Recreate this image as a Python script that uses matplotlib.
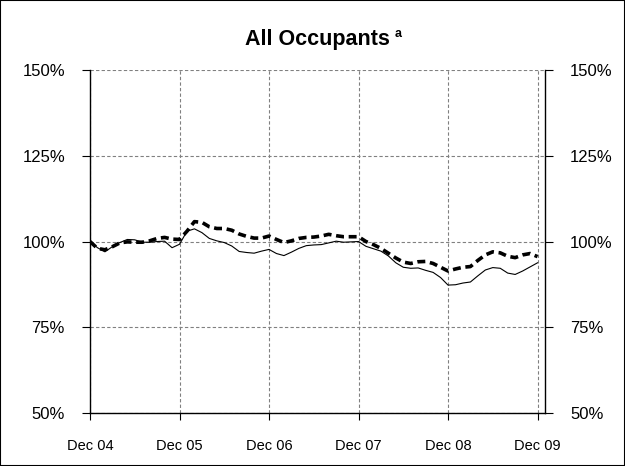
import numpy as np
import matplotlib.pyplot as plt
from matplotlib.patches import Rectangle

plt.rcParams['font.family'] = ['Liberation Sans', 'DejaVu Sans']

# 月份序号: 0 = Dec 04
months = np.arange(61)

# 细实线
solid_vals = [100.0, 98.2, 97.0, 98.5, 99.7, 100.6, 100.5, 99.8, 99.8, 100.0,
              100.1, 98.2, 99.2, 103.0, 103.7, 102.6, 100.9, 100.2, 99.7, 98.7,
              97.1, 96.8, 96.6, 97.2, 97.7, 96.5, 95.9, 96.9, 98.0, 98.8,
              99.0, 99.1, 99.6, 100.1, 99.8, 99.9, 100.0, 98.6, 97.9, 97.2,
              95.8, 93.8, 92.5, 92.2, 92.3, 91.6, 91.0, 89.5, 87.3, 87.4,
              87.9, 88.2, 90.0, 91.7, 92.4, 92.2, 90.8, 90.4, 91.4, 92.6,
              93.8]

# 粗虚线
dashed_vals = [100.0, 98.0, 97.6, 98.5, 99.6, 99.9, 99.8, 99.8, 100.2, 100.9,
               101.2, 100.7, 100.6, 103.0, 105.8, 105.6, 104.3, 103.8, 103.8, 103.3,
               102.2, 101.5, 101.0, 101.0, 101.6, 100.6, 99.7, 100.2, 100.9, 101.2,
               101.3, 101.6, 102.1, 101.7, 101.4, 101.4, 101.4, 100.0, 99.1, 98.0,
               96.6, 95.2, 94.0, 93.6, 94.1, 94.2, 93.6, 92.5, 91.4, 92.0,
               92.5, 92.7, 94.5, 96.1, 97.0, 96.7, 95.7, 95.3, 96.1, 96.5,
               95.6]

tick_months = [0, 12, 24, 36, 48, 60]
tick_labels = ['Dec 04', 'Dec 05', 'Dec 06', 'Dec 07', 'Dec 08', 'Dec 09']
y_ticks = [50, 75, 100, 125, 150]
y_labels = ['50%', '75%', '100%', '125%', '150%']

fig = plt.figure(figsize=(6.25, 4.66), dpi=100)
ax = fig.add_axes([0.144, 0.1137, 0.728, 0.736])

ax.plot(months, solid_vals, color='black', lw=0.8, zorder=3)
ax.plot(months, dashed_vals, color='black', lw=2.6, ls=(0, (2.2, 1.3)), zorder=3)

ax.set_xlim(0, 61)
ax.set_ylim(50, 150)
ax.set_xticks(tick_months)
ax.set_xticklabels(tick_labels, fontsize=10.5)
ax.set_yticks(y_ticks)
ax.set_yticklabels(y_labels, fontsize=12)

ax.grid(True, color='#808080', ls=(0, (3, 2)), lw=0.8)
ax.spines['top'].set_visible(False)
for s in ['left', 'right', 'bottom']:
    ax.spines[s].set_linewidth(1.0)

ax.tick_params(axis='y', which='both', left=True, right=True,
               labelleft=True, labelright=True, direction='out',
               length=6, width=0.8, pad=12)
ax.tick_params(axis='x', direction='out', length=5, width=0.8, pad=14)
for lbl in ax.get_yticklabels():
    pass

fig.text(0.508, 0.915, 'All Occupants', ha='center', va='center',
         fontsize=15.5, fontweight='bold')
fig.text(0.632, 0.928, 'a', ha='left', va='center',
         fontsize=9, fontweight='bold')

fig.patches.append(Rectangle((0, 0), 1, 1, transform=fig.transFigure,
                             fill=False, edgecolor='black', lw=1.5))

fig.savefig('out.png', dpi=100)
